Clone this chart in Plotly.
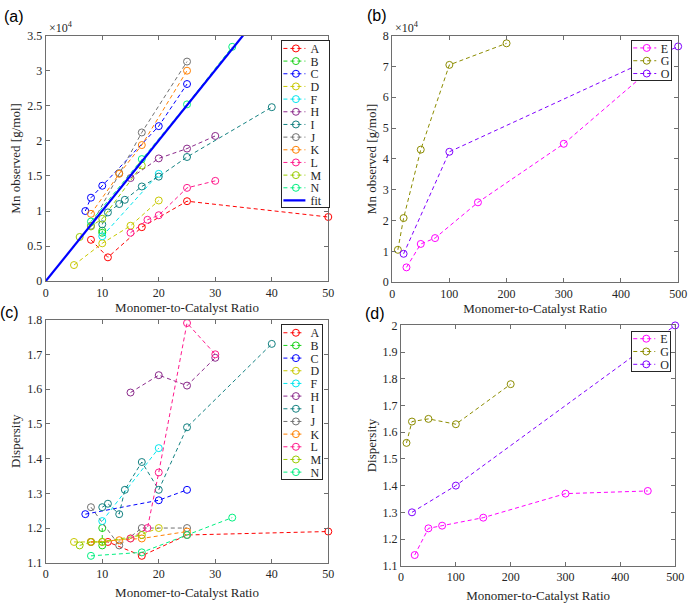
import plotly.graph_objects as go

# ---------------- data ----------------
# Panels (a)/(c): series A..N  (ratio, Mn [g/mol], dispersity)
x_A = [8, 11, 17, 25, 50]
mn_A = [5900, 3400, 7700, 11400, 9150]
d_A = [1.16, 1.16, 1.12, 1.18, 1.19]

x_B = [10, 10]
mn_B = [7200, 6900]
d_B = [1.20, 1.15]

x_C = [7, 8, 10, 20, 25]
mn_C = [10000, 11900, 13600, 22100, 28100]
d_C = [1.24, None, None, 1.28, 1.31]

x_D = [5, 10, 15, 20]
mn_D = [2300, 5400, 7900, 11500]
d_D = [1.16, 1.16, 1.17, 1.20]

x_F = [10, 20]
mn_F = [6400, 15300]
d_F = [1.22, 1.43]

x_H = [15, 20, 25, 30]
mn_H = [14700, 17500, 18900, 20700]
d_H = [1.59, 1.64, 1.61, 1.69]

x_I = [10, 11, 13, 14, 17, 20, 25, 40]
mn_I = [8100, 9800, 11000, 11600, 13500, 14900, 17700, 24800]
d_I = [1.26, 1.27, 1.24, 1.31, 1.39, 1.31, 1.49, 1.73]

x_J = [8, 13, 17, 25]
mn_J = [7900, 15400, 21200, 31300]
d_J = [1.26, 1.15, 1.20, 1.20]

x_K = [8, 13, 17, 25]
mn_K = [9600, 15300, 19400, 30000]
d_K = [1.16, 1.165, 1.17, 1.19]

x_L = [15, 18, 20, 25, 30]
mn_L = [6900, 8750, 9400, 13300, 14300]
d_L = [1.17, 1.20, 1.36, 1.79, 1.70]

x_M = [6, 8, 10, 17]
mn_M = [6300, 7800, 8900, 16500]
d_M = [1.15, 1.16, 1.16, 1.18]

x_N = [8, 17, 25, 33]
mn_N = [8500, 17400, 25200, 33400]
d_N = [1.12, 1.13, 1.18, 1.23]

fit_x = [0, 50]
fit_slope = 1003  # g/mol per unit ratio
fit_y = [fit_slope * v for v in fit_x]

# Panels (b)/(d): series E, G, O
x_E = [25, 50, 75, 150, 300, 450]
mn_E = [4800, 12400, 14300, 25900, 44900, 68800]
d_E = [1.14, 1.24, 1.25, 1.28, 1.37, 1.38]

x_G = [10, 20, 50, 100, 200]
mn_G = [10500, 20800, 43000, 70500, 77500]
d_G = [1.56, 1.64, 1.65, 1.63, 1.78]

x_O = [20, 100, 500]
mn_O = [9200, 42300, 76500]
d_O = [1.30, 1.40, 2.00]

left_series = [
    ("A", x_A, mn_A, d_A, "#ff0000"),
    ("B", x_B, mn_B, d_B, "#19d219"),
    ("C", x_C, mn_C, d_C, "#0000ff"),
    ("D", x_D, mn_D, d_D, "#c8c800"),
    ("F", x_F, mn_F, d_F, "#00e5ee"),
    ("H", x_H, mn_H, d_H, "#8b2a8b"),
    ("I", x_I, mn_I, d_I, "#128080"),
    ("J", x_J, mn_J, d_J, "#707070"),
    ("K", x_K, mn_K, d_K, "#ff8000"),
    ("L", x_L, mn_L, d_L, "#ff1a8c"),
    ("M", x_M, mn_M, d_M, "#99cc00"),
    ("N", x_N, mn_N, d_N, "#00f080"),
]
right_series = [
    ("E", x_E, mn_E, d_E, "#ff00ff"),
    ("G", x_G, mn_G, d_G, "#8c8c00"),
    ("O", x_O, mn_O, d_O, "#8000ff"),
]

W, H = 695, 603
FONT = "Times New Roman, Liberation Serif, serif"
SANS = "Liberation Sans, Arial, sans-serif"

def px_x(p):
    return p / W

def px_y(p):
    return 1 - p / H

fig = go.Figure()

def add_series(name, xs, ys, color, xa, ya, legend):
    fig.add_trace(go.Scatter(
        x=xs, y=ys, name=name, mode="lines+markers",
        line=dict(color=color, width=1, dash="4px,3px"),
        marker=dict(symbol="circle-open", size=7, color=color, line=dict(width=1, color=color)),
        connectgaps=True, cliponaxis=False, xaxis=xa, yaxis=ya, legend=legend,
    ))

for name, xs, mn, d, c in left_series:
    add_series(name, xs, mn, c, "x", "y", "legend")
fig.add_trace(go.Scatter(x=fit_x, y=fit_y, name="fit", mode="lines",
                         line=dict(color="#0000ff", width=2.2),
                         xaxis="x", yaxis="y", legend="legend"))
for name, xs, mn, d, c in right_series:
    add_series(name, xs, mn, c, "x2", "y2", "legend2")
for name, xs, mn, d, c in left_series:
    add_series(name, xs, d, c, "x3", "y3", "legend3")
for name, xs, mn, d, c in right_series:
    add_series(name, xs, d, c, "x4", "y4", "legend4")

axcol = "#6e6e6e"
def axis(domain, rng, tickvals, ticktext, anchor, title, standoff):
    return dict(
        domain=domain, range=rng, tickvals=tickvals, ticktext=ticktext,
        anchor=anchor, showline=True, linecolor=axcol, linewidth=1, mirror="allticks",
        ticks="inside", ticklen=4, tickcolor=axcol, showgrid=False, zeroline=False,
        tickfont=dict(family=FONT, size=12, color="#262626"),
        title=dict(text=title, font=dict(family=FONT, size=13, color="#262626"), standoff=standoff),
    )

xa_dom = [px_x(43.5), px_x(331)]
xb_dom = [px_x(396), px_x(687)]
xd_dom = [px_x(405), px_x(684)]
ya_dom = [px_y(280.7), px_y(29.3)]
yb_dom = [px_y(281.7), px_y(29.3)]
yc_dom = [px_y(569), px_y(320)]
yd_dom = [px_y(572), px_y(326)]

xt50 = [0, 10, 20, 30, 40, 50]
xt500 = [0, 100, 200, 300, 400, 500]
mn_ticks_a = [i * 5000 for i in range(8)]
mn_ticks_b = [i * 10000 for i in range(9)]
d_ticks_c = [1.1, 1.2, 1.3, 1.4, 1.5, 1.6, 1.7, 1.8]
d_ticks_d = [1.1, 1.2, 1.3, 1.4, 1.5, 1.6, 1.7, 1.8, 1.9, 2.0]

def fmt(v):
    return "%g" % v

fig.update_layout(
    width=W, height=H, margin=dict(l=0, r=0, t=0, b=0),
    paper_bgcolor="white", plot_bgcolor="white",
    font=dict(family=FONT, size=12, color="#262626"),
    xaxis=axis(xa_dom, [0, 50], xt50, [str(v) for v in xt50], "y", "Monomer-to-Catalyst Ratio", 4),
    yaxis=axis(ya_dom, [0, 35000], mn_ticks_a, [fmt(v / 10000) for v in mn_ticks_a], "x", "Mn observed [g/mol]", 3),
    xaxis2=axis(xb_dom, [0, 500], xt500, [str(v) for v in xt500], "y2", "Monomer-to-Catalyst Ratio", 4),
    yaxis2=axis(yb_dom, [0, 80000], mn_ticks_b, [fmt(v / 10000) for v in mn_ticks_b], "x2", "Mn observed [g/mol]", 3),
    xaxis3=axis(xa_dom, [0, 50], xt50, [str(v) for v in xt50], "y3", "Monomer-to-Catalyst Ratio", 7),
    yaxis3=axis(yc_dom, [1.1, 1.8], d_ticks_c, [fmt(v) for v in d_ticks_c], "x3", "Dispersity", 3),
    xaxis4=axis(xd_dom, [0, 500], xt500, [str(v) for v in xt500], "y4", "Monomer-to-Catalyst Ratio", 7),
    yaxis4=axis(yd_dom, [1.1, 2.0], d_ticks_d, [fmt(v) for v in d_ticks_d], "x4", "Dispersity", 3),
)

def leg(xp, yp):
    return dict(x=px_x(xp), y=px_y(yp), xanchor="left", yanchor="top",
                bgcolor="white", bordercolor="#262626", borderwidth=1,
                font=dict(family=FONT, size=12, color="#262626"),
                tracegroupgap=0, itemwidth=30)

fig.update_layout(
    legend=leg(283.3, 33.5), legend2=leg(639.3, 33.3),
    legend3=leg(283.3, 325), legend4=leg(639.3, 331.7),
)

ann = []
for txt, xp, yp in [("(a)", 11, 10), ("(b)", 381, 9), ("(c)", 7, 313), ("(d)", 379, 314)]:
    ann.append(dict(text=txt, x=px_x(xp), y=px_y(yp), xref="paper", yref="paper",
                    xanchor="center", yanchor="middle",
                    showarrow=False, font=dict(family=SANS, size=16, color="black")))
for xp in (45, 397):
    ann.append(dict(text="×10<sup>4</sup>", x=px_x(xp), y=px_y(21), xref="paper", yref="paper",
                    xanchor="left", yanchor="middle", showarrow=False,
                    font=dict(family=FONT, size=12, color="#262626")))
fig.update_layout(annotations=ann)

# Compact MATLAB-style legend spacing (plotly's native minimum row height is 19px)
post_js = """
function tighten(cls, y0, sp, tail, boxW, lineX0, lineLen, markX, textX) {
  var lg = document.querySelector('g.' + cls);
  if (!lg) return;
  lg.querySelectorAll('g.groups').forEach(function(g){ g.setAttribute('transform','translate(0,0)'); });
  var tr = lg.querySelectorAll('g.traces');
  tr.forEach(function(t, i){
    t.setAttribute('transform', 'translate(1,' + (y0 + i*sp) + ')');
    t.querySelectorAll('text').forEach(function(tx){
      var cx = parseFloat(tx.getAttribute('x') || '0');
      tx.setAttribute('transform', 'translate(' + (textX - cx) + ',0)');
    });
    t.querySelectorAll('g.legendlines path').forEach(function(p){ p.setAttribute('d','M'+lineX0+',0h'+lineLen); });
    t.querySelectorAll('g.legendpoints path').forEach(function(p){ p.setAttribute('transform','translate('+markX+',0)'); });
    var tg = t.querySelector('rect.legendtoggle');
    if (tg) { tg.setAttribute('height', sp); tg.setAttribute('y', -sp/2); tg.setAttribute('width', boxW - 2); }
  });
  var h = y0 + (tr.length - 1) * sp + tail;
  var bg = lg.querySelector('rect.bg');
  if (bg) { bg.setAttribute('height', h); bg.setAttribute('width', boxW); }
}
function tightenAll() {
  tighten('legend', 8.7, 12.67, 7, 48, 1, 22, 13.5, 28);
  tighten('legend2', 8.4, 12.8, 6.7, 40, 1, 23, 14.5, 28.5);
  tighten('legend3', 8.3, 12.67, 6.6, 41, 1, 21, 13.5, 28);
  tighten('legend4', 7.7, 12.8, 6.7, 39, 1, 22, 14, 28);
}
tightenAll();
setTimeout(tightenAll, 30);
setTimeout(tightenAll, 200);
setTimeout(tightenAll, 800);
"""

fig.write_html("out.html", post_script=post_js)
